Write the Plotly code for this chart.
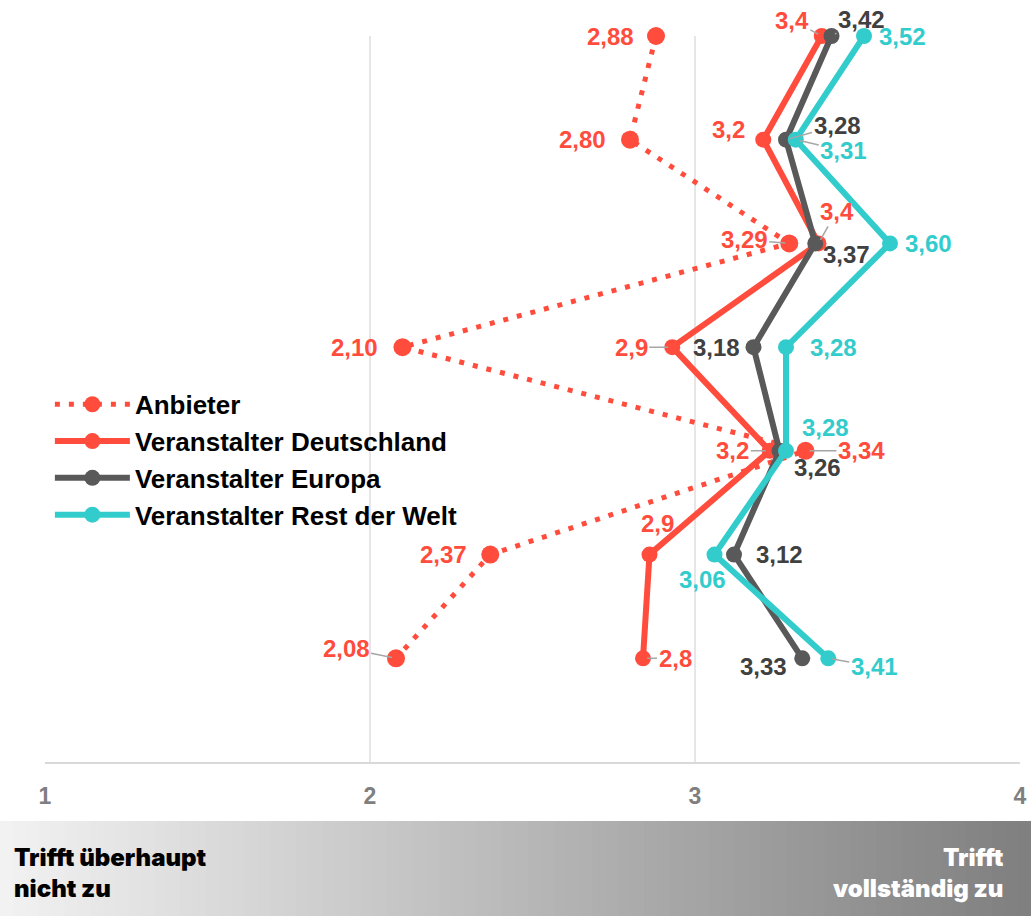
import plotly.graph_objects as go

# x = Zustimmung (1 = trifft überhaupt nicht zu ... 4 = trifft vollständig zu), y = Aussage 1..7
items = [1, 2, 3, 4, 5, 6, 7]
anbieter = [2.88, 2.80, 3.29, 2.10, 3.34, 2.37, 2.08]
va_deutschland = [3.39, 3.21, 3.38, 2.93, 3.23, 2.86, 2.84]
va_europa = [3.42, 3.28, 3.37, 3.18, 3.26, 3.12, 3.33]
va_rest_welt = [3.52, 3.31, 3.60, 3.28, 3.28, 3.06, 3.41]
x_ticks = [1, 2, 3, 4]

red = "#ff4c3c"
dark = "#595959"
teal = "#33cccc"

series = [
    ("Anbieter", anbieter, red, red, 2, "dot"),
    ("Veranstalter Deutschland", va_deutschland, red, red, 1, "solid"),
    ("Veranstalter Europa", va_europa, dark, "#404040", 2, "solid"),
    ("Veranstalter Rest der Welt", va_rest_welt, teal, teal, 2, "solid"),
]

# label offsets in px (dx, dy, leader line?)
offsets = {
    "Anbieter": [(-46, 0, 0), (-48, 0, 0), (-45, -4, 1), (-48, 0, 0), (56, 0, 1), (-47, 0, 0), (-50, -10, 1)],
    "Veranstalter Deutschland": [(-30, -16, 1), (-35, -10, 0), (18, -32, 1), (-41, 0, 1), (-37, 0, 1), (8, -31, 0), (32, 0, 1)],
    "Veranstalter Europa": [(30, -17, 1), (51, -14, 1), (31, 11, 0), (-37, 0, 0), (38, 17, 0), (45, 0, 0), (-39, 8, 0)],
    "Veranstalter Rest der Welt": [(38, 0, 0), (48, 11, 1), (38, 0, 0), (47, 0, 0), (39, -23, 0), (-12, 25, 0), (46, 8, 1)],
}

fig = go.Figure()
annotations = []
for name, vals, col, lcol, dec, dash in series:
    if dash == "dot":
        line = dict(color=col, width=5, dash="5px,9px")
        marker = dict(size=18, color=col, symbol="circle")
    else:
        line = dict(color=col, width=6)
        marker = dict(size=16, color=col)
    fig.add_trace(go.Scatter(x=vals, y=items, mode="lines+markers", name=name,
                             line=line, marker=marker, cliponaxis=False))
    for v, yy, (dx, dy, lead) in zip(vals, items, offsets[name]):
        txt = f"{v:.{dec}f}".replace(".", ",")
        annotations.append(dict(x=v, y=yy, text=txt, showarrow=True, ax=dx, ay=dy,
                                arrowhead=0, arrowwidth=1.5, standoff=4,
                                arrowcolor="#a6a6a6" if lead else "rgba(0,0,0,0)",
                                font=dict(size=24, color=lcol, family="Liberation Sans", weight="bold"),
                                xanchor="center", yanchor="middle"))

# gradient band at the bottom
shapes = []
n = 80
x0 = -45 / 975
x1 = 1 + 11 / 975
for i in range(n):
    c = int(242 - (242 - 128) * i / (n - 1))
    shapes.append(dict(type="rect", xref="paper", yref="paper",
                       x0=x0 + (x1 - x0) * i / n, x1=x0 + (x1 - x0) * (i + 1) / n + 0.002,
                       y0=-154 / 726, y1=-59 / 726, line=dict(width=0),
                       fillcolor=f"rgb({c},{c},{c})", layer="below"))

band_font = dict(family="Inter, Roboto", size=24, weight=900)
annotations.append(dict(xref="paper", yref="paper", x=(12 - 45) / 975, y=-111 / 726,
                        text="Trifft überhaupt<br>nicht zu", showarrow=False, align="left",
                        xanchor="left", yanchor="middle", font=dict(band_font, color="#000000")))
annotations.append(dict(xref="paper", yref="paper", x=(1006 - 45) / 975, y=-111 / 726,
                        text="Trifft<br>vollständig zu", showarrow=False, align="right",
                        xanchor="right", yanchor="middle", font=dict(band_font, color="#ffffff")))

fig.update_layout(
    width=1031, height=916,
    margin=dict(l=45, r=11, t=36, b=154, autoexpand=False),
    plot_bgcolor="white", paper_bgcolor="white",
    separators=",.",
    showlegend=True,
    legend=dict(x=0.005, y=0.525, xanchor="left", yanchor="top", bgcolor="rgba(0,0,0,0)",
                font=dict(family="Liberation Sans", size=26, color="#000000", weight="bold"),
                itemwidth=75, tracegroupgap=0),
    annotations=annotations,
    shapes=shapes,
    font=dict(family="Liberation Sans"),
)
fig.update_xaxes(range=[1, 4], tickvals=x_ticks, showgrid=True, gridcolor="#e6e6e6", gridwidth=1.5,
                 zeroline=False, showline=True, linecolor="#d9d9d9", linewidth=2, automargin=False,
                 tickfont=dict(family="Liberation Sans", size=23, color="#7f7f7f", weight="bold"),
                 ticks="", ticklabelstandoff=12)
fig.update_yaxes(range=[8, 1], visible=False)

fig.write_html("out.html", config={"displayModeBar": False},
               post_script="document.body.style.margin='0';")
